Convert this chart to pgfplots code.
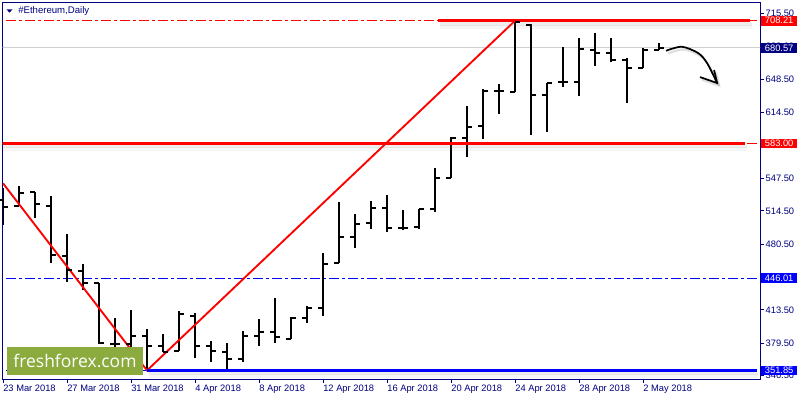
\documentclass[border=0pt]{standalone}
\usepackage{pgfplots}
\pgfplotsset{compat=1.18}
\usepackage{pgfplotstable}
\usepackage{graphicx}
\usepackage{fontspec}
\setmainfont{Liberation Sans}
\newfontfamily\logofont{Open Sans}

\definecolor{mtnavy}{RGB}{0,0,128}
\definecolor{logogreen}{RGB}{139,171,62}
\definecolor{pricegray}{RGB}{208,208,208}

% OHLC bar ticks: open to the left, close to the right
\pgfdeclareplotmark{otick}{\pgfpathmoveto{\pgfqpoint{-3.6pt}{0pt}}\pgfpathlineto{\pgfqpoint{0pt}{0pt}}\pgfusepathqstroke}
\pgfdeclareplotmark{ctick}{\pgfpathmoveto{\pgfqpoint{0pt}{0pt}}\pgfpathlineto{\pgfqpoint{3.6pt}{0pt}}\pgfusepathqstroke}

\tikzset{mtdashdot/.style={dash pattern=on 7.5pt off 2.5pt on 1.75pt off 2.5pt}}

% day 0 = 23 Mar 2018
\pgfplotstableread{
d  O      H      L      C
0  525.5  537.7  500.0  518.4
1  519.4  539.8  519.4  532.6
2  533.7  533.7  507.2  521.4
3  519.4  529.6  461.3  469.5
4  468.4  490.9  442.0  454.2
5  453.2  460.3  433.8  440.9
6  440.9  440.9  378.8  379.8
7  378.8  405.3  370.6  378.8
8  378.8  413.4  367.6  386.9
9  386.9  394.1  351.85 376.7
10 376.7  389.0  370.6  370.6
11 371.6  412.4  371.6  409.3
12 407.3  410.3  364.5  376.7
13 376.7  381.8  360.4  371.6
14 370.6  379.8  352.3  363.5
15 363.5  392.0  360.4  386.9
16 386.9  404.3  376.7  391.0
17 391.0  425.7  379.8  385.9
18 383.9  406.3  383.9  405.3
19 405.3  417.5  400.2  415.5
20 415.5  471.5  407.3  460.3
21 461.3  523.5  461.3  487.8
22 487.8  511.2  476.6  501.1
23 502.1  524.5  496.0  517.4
24 517.4  530.6  492.9  497.0
25 497.0  515.3  494.9  497.0
26 498.0  516.3  496.0  516.3
27 516.3  558.1  513.3  547.9
28 547.9  589.7  547.9  588.7
29 588.7  621.3  569.3  599.9
30 600.9  638.6  587.7  636.6
31 636.6  643.7  613.1  636.6
32 635.6  708.21 635.6  706.5
33 703.8  704.9  591.7  632.5
34 632.5  644.7  594.8  644.7
35 645.8  681.4  640.7  645.8
36 645.8  690.6  631.5  679.4
37 678.4  695.7  662.1  675.3
38 675.3  690.6  666.1  668.2
39 668.2  670.2  624.4  660.0
40 660.0  680.4  660.0  678.4
41 678.4  685.5  678.4  680.57
}\ohlc

\begin{document}
\begin{tikzpicture}
\fill[white] (0,0) rectangle (600pt,300pt);
\useasboundingbox (0,0) rectangle (600pt,300pt);
\begin{axis}[
  at={(2.03pt,15.75pt)}, anchor=south west,
  scale only axis, width=567.98pt, height=282.2pt,
  xmin=-0.02, xmax=47.31, ymin=343.11, ymax=726.56,
  axis line style={mtnavy, line width=0.75pt},
  xtick={0,4,...,40},
  xticklabels={23 Mar 2018,27 Mar 2018,31 Mar 2018,4 Apr 2018,8 Apr 2018,12 Apr 2018,16 Apr 2018,20 Apr 2018,24 Apr 2018,28 Apr 2018,2 May 2018},
  ytick={346.5,379.5,413.5,447,480.5,514.5,547.5,581,614.5,648.5,682,715.5},
  xtick pos=bottom, ytick pos=right, yticklabel pos=right,
  tick align=outside, major tick length=3pt,
  tick style={mtnavy, line width=0.75pt},
  ticklabel style={font=\fontsize{7}{8}\selectfont, text=mtnavy},
  xticklabel style={anchor=north west, inner sep=0pt, yshift=-1pt},
  yticklabel style={anchor=west, inner sep=0pt, xshift=1pt},
  /pgf/number format/fixed, /pgf/number format/fixed zerofill,
  /pgf/number format/precision=2, /pgf/number format/assume math mode=true,
  clip=true,
]
% current price line
\addplot[pricegray, line width=0.75pt] coordinates {(-1,680.57) (48,680.57)};
% horizontal dash-dot levels
\addplot[red, line width=0.75pt, mtdashdot] coordinates {(-1,708.21) (48,708.21)};
\addplot[red, line width=0.75pt, mtdashdot] coordinates {(-1,583.00) (48,583.00)};
\addplot[blue, line width=0.75pt, mtdashdot] coordinates {(-1,446.01) (48,446.01)};
\addplot[blue, line width=0.75pt, mtdashdot] coordinates {(-1,351.85) (48,351.85)};

% OHLC bars: high-low as error bars from the low
\addplot[draw=none, mark=none,
  error bars/.cd, y dir=plus, y explicit, error mark=none,
  error bar style={draw=black, solid, line width=1.5pt}]
  table[x=d, y=L, y error expr=\thisrow{H}-\thisrow{L}] {\ohlc};
\addplot[only marks, mark=otick, mark options={line width=1.5pt, black}] table[x=d, y=O] {\ohlc};
\addplot[only marks, mark=ctick, mark options={line width=1.5pt, black}] table[x=d, y=C] {\ohlc};

% trend lines
\addplot[red, line width=1.4pt] coordinates {(0,542.5) (9,351.85) (32,708.21)};

% thick levels with soft shadows
\addplot[gray, opacity=0.13, line width=2.5pt, yshift=-2.4pt] coordinates {(27.3,708.21) (46.8,708.21)};
\addplot[gray, opacity=0.07, line width=3pt, yshift=-4.4pt] coordinates {(27.3,708.21) (46.8,708.21)};
\addplot[red, line width=2.3pt] coordinates {(27.19,708.21) (46.69,708.21)};
\addplot[gray, opacity=0.13, line width=2.5pt, yshift=-2.4pt] coordinates {(-1,583.00) (46.5,583.00)};
\addplot[gray, opacity=0.07, line width=3pt, yshift=-4.4pt] coordinates {(-1,583.00) (46.5,583.00)};
\addplot[red, line width=2.3pt] coordinates {(-1,583.00) (46.375,583.00)};
\addplot[gray, opacity=0.13, line width=2.5pt, yshift=-2.4pt] coordinates {(9.1,351.85) (47.2,351.85)};
\addplot[gray, opacity=0.07, line width=3pt, yshift=-4.4pt] coordinates {(9.1,351.85) (47.2,351.85)};
\addplot[blue, line width=2.3pt] coordinates {(9,351.85) (47.125,351.85)};

% hand-drawn arrow
\addplot[gray, opacity=0.25, line width=1.6pt, smooth, xshift=1.5pt, yshift=-2pt] coordinates {(41.44,677.6) (42.42,681.7) (43.44,675.3) (44.0,665.1) (44.63,644.7)};
\addplot[gray, opacity=0.25, line width=1.6pt, xshift=1.5pt, yshift=-2pt] coordinates {(43.56,650.8) (44.63,644.7) (44.44,658.0)};
\addplot[black, line width=1.3pt, smooth] coordinates {(41.44,677.6) (42.42,681.7) (43.44,675.3) (44.0,665.1) (44.63,644.7)};
\addplot[black, line width=1.3pt] coordinates {(43.56,650.8) (44.63,644.7) (44.44,658.0)};

\coordinate (b708) at (axis cs:47.31,708.21);
\coordinate (b680) at (axis cs:47.31,680.57);
\coordinate (b583) at (axis cs:47.31,583.00);
\coordinate (b446) at (axis cs:47.31,446.01);
\coordinate (b351) at (axis cs:47.31,351.85);
\end{axis}

\tikzset{lvlbox/.style={anchor=west, inner sep=0pt, minimum width=27.3pt, minimum height=7.3pt, text=white, font=\fontsize{7}{8}\selectfont}}
\node[lvlbox, fill=red] at ([xshift=0.5pt]b708) {708.21};
\node[lvlbox, fill=mtnavy] at ([xshift=0.5pt]b680) {680.57};
\node[lvlbox, fill=red] at ([xshift=0.5pt]b583) {583.00};
\node[lvlbox, fill=blue] at ([xshift=0.5pt]b446) {446.01};
\node[lvlbox, fill=blue] at ([xshift=0.5pt]b351) {351.85};

\begin{scope}[x=0.75pt, y=-0.75pt, shift={(0pt,300pt)}]
  \fill[mtnavy] (6.5,9.3) -- (12.5,9.3) -- (9.5,12.7) -- cycle;
  \node[anchor=west, inner sep=0pt, text=mtnavy, font=\fontsize{7.2}{8}\selectfont] at (18,11) {\#Ethereum,Daily};
  \fill[logogreen] (7.3,347.3) rectangle (142.7,375);
  \node[text=white, inner sep=0pt] at (75,361.3) {\resizebox{92.25pt}{!}{\logofont freshforex.com}};
\end{scope}
\end{tikzpicture}
\end{document}
